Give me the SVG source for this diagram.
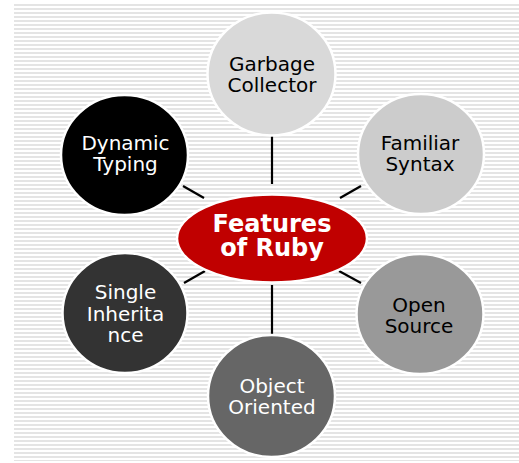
<svg xmlns="http://www.w3.org/2000/svg" width="519" height="463" viewBox="0 0 519 463">
  <defs>
    <pattern id="stripes" x="0" y="4" width="8" height="4" patternUnits="userSpaceOnUse">
      <rect width="8" height="4" fill="#ffffff"/>
      <rect y="0" width="8" height="2" fill="#e4e4e4"/>
    </pattern>
    <style>
      .node { stroke: #ffffff; stroke-width: 2.5; }
      .lbl { font-family: "DejaVu Sans", Verdana, sans-serif; font-size: 20px; text-anchor: middle; }
      .dark { fill: #ffffff; }
      .light { fill: #000000; }
      .title { font-family: "DejaVu Sans", Verdana, sans-serif; font-size: 24px; font-weight: bold; fill: #ffffff; text-anchor: middle; }
      .conn { stroke: #000000; stroke-width: 2.2; fill: none; }
    </style>
  </defs>

  <!-- striped backdrop -->
  <rect x="0" y="0" width="519" height="463" fill="#ffffff"/>
  <rect x="14" y="4" width="505" height="457" fill="url(#stripes)"/>

  <!-- connectors -->
  <g id="connectors">
    <line class="conn" x1="272" y1="136" x2="272" y2="184"/>
    <line class="conn" x1="272" y1="285" x2="272" y2="335"/>
    <line class="conn" x1="183" y1="186" x2="204" y2="198"/>
    <line class="conn" x1="361" y1="186" x2="340" y2="198"/>
    <line class="conn" x1="184" y1="283" x2="205" y2="271"/>
    <line class="conn" x1="361" y1="283" x2="339" y2="271"/>
  </g>

  <!-- hub -->
  <g id="features">
    <ellipse class="node" cx="272" cy="238.5" rx="95" ry="44" fill="#c00000"/>
    <text class="title" x="272" y="232">Features</text>
    <text class="title" x="272" y="256">of Ruby</text>
  </g>

  <!-- surrounding features -->
  <g id="garbage-collector">
    <ellipse class="node" cx="271.5" cy="74" rx="64" ry="61.5" fill="#d9d9d9"/>
    <text class="lbl light" x="272" y="71">Garbage</text>
    <text class="lbl light" x="272" y="92">Collector</text>
  </g>

  <g id="familiar-syntax">
    <ellipse class="node" cx="421" cy="154" rx="63" ry="60" fill="#cccccc"/>
    <text class="lbl light" x="420" y="150">Familiar</text>
    <text class="lbl light" x="420" y="171">Syntax</text>
  </g>

  <g id="open-source">
    <ellipse class="node" cx="420" cy="314" rx="63.5" ry="60" fill="#999999"/>
    <text class="lbl light" x="419" y="312">Open</text>
    <text class="lbl light" x="419" y="333">Source</text>
  </g>

  <g id="object-oriented">
    <ellipse class="node" cx="271.5" cy="396" rx="63.5" ry="61" fill="#666666"/>
    <text class="lbl dark" x="272" y="393">Object</text>
    <text class="lbl dark" x="272" y="414">Oriented</text>
  </g>

  <g id="single-inheritance">
    <ellipse class="node" cx="125" cy="313" rx="62.5" ry="60" fill="#333333"/>
    <text class="lbl dark" x="125.5" y="299">Single</text>
    <text class="lbl dark" x="125.5" y="321">Inherita</text>
    <text class="lbl dark" x="125.5" y="342">nce</text>
  </g>

  <g id="dynamic-typing">
    <ellipse class="node" cx="124.5" cy="155" rx="63.5" ry="60" fill="#000000"/>
    <text class="lbl dark" x="125.5" y="150">Dynamic</text>
    <text class="lbl dark" x="125.5" y="171">Typing</text>
  </g>
</svg>
